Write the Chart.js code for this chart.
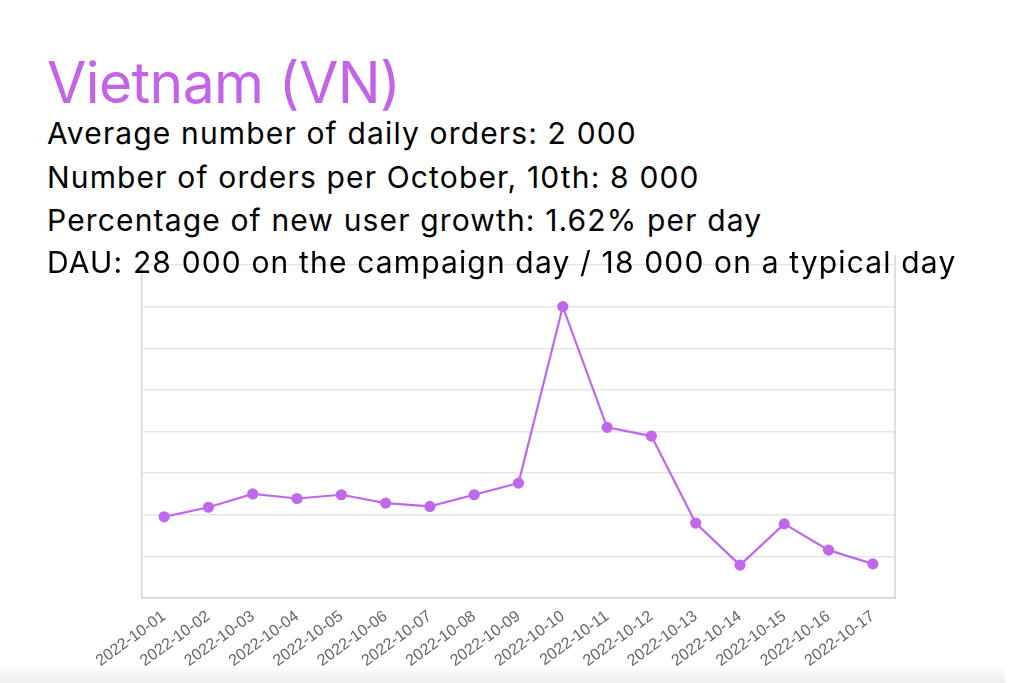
<!DOCTYPE html>
<html>
<head>
<meta charset="utf-8">
<script src="https://cdn.jsdelivr.net/npm/chart.js@4/dist/chart.umd.min.js"></script>
<style>
  html, body { margin: 0; padding: 0; width: 1024px; height: 683px; background: #fff; overflow: hidden; }
  .t { position: absolute; left: 47px; font-family: Inter, "Noto Sans", sans-serif; white-space: nowrap; }
  #title { top: 48px; font-size: 57px; line-height: 69px; color: #c263e8; letter-spacing: -0.6px; }
  .line { font-size: 30px; line-height: 43.33px; color: #000; letter-spacing: 1.15px; }
  #wrap { position: absolute; left: 0; top: 250px; width: 1024px; height: 433px; }
  #shade { position: absolute; left: 0; top: 664px; width: 1005px; height: 19px;
           background: linear-gradient(to bottom, rgba(240,240,240,0), rgba(238,238,238,1)); }
</style>
</head>
<body>
<div id="title" class="t">Vietnam (VN)</div>
<div class="t line" style="top:112px">Average number of daily orders: 2 000</div>
<div class="t line" style="top:155.5px">Number of orders per October, 10th: 8 000</div>
<div class="t line" style="top:198.8px">Percentage of new user growth: 1.62% per day</div>
<div id="shade"></div>
<div id="wrap"><canvas id="c" width="1024" height="433"></canvas></div>
<div class="t line" style="top:240.5px">DAU: 28 000 on the campaign day / 18 000 on a typical day</div>
<script>
const categories = ["2022-10-01","2022-10-02","2022-10-03","2022-10-04","2022-10-05","2022-10-06","2022-10-07","2022-10-08","2022-10-09","2022-10-10","2022-10-11","2022-10-12","2022-10-13","2022-10-14","2022-10-15","2022-10-16","2022-10-17"];
const orders = [2950, 3180, 3500, 3390, 3480, 3280, 3200, 3480, 3760, 8000, 5100, 4890, 2800, 1790, 2780, 2150, 1820];
const yMin = 1000, yMax = 9000, yStep = 1000;

const frame = {
  id: 'frame',
  afterDraw(chart) {
    const a = chart.chartArea, ctx = chart.ctx;
    ctx.save();
    ctx.strokeStyle = '#d4d4d4';
    ctx.lineWidth = 1.5;
    ctx.beginPath();
    ctx.moveTo(a.right, a.top - 10);
    ctx.lineTo(a.right, a.bottom);
    ctx.stroke();
    ctx.restore();
  }
};

new Chart(document.getElementById('c'), {
  type: 'line',
  data: {
    labels: categories,
    datasets: [{
      data: orders,
      borderColor: '#c068ec',
      backgroundColor: '#c068ec',
      borderWidth: 2.2,
      pointRadius: 4.5,
      pointHoverRadius: 4.5,
      tension: 0
    }]
  },
  options: {
    responsive: false,
    animation: false,
    events: [],
    layout: { padding: { left: 142, right: 129, top: 15, bottom: 0 } },
    plugins: { legend: { display: false }, tooltip: { enabled: false } },
    scales: {
      x: {
        offset: true,
        grid: { display: false, drawTicks: false },
        border: { display: true, color: '#d4d4d4', width: 1.5 },
        ticks: {
          minRotation: 36, maxRotation: 36, autoSkip: false,
          padding: 9,
          color: '#666666',
          font: { family: '"Liberation Sans", Arial, sans-serif', size: 16 }
        },
        afterFit(scale) { scale.height = 85; }
      },
      y: {
        min: yMin, max: yMax,
        ticks: { display: false, stepSize: yStep },
        grid: { color: '#e6e6e6', lineWidth: 1.5, drawTicks: false },
        border: { display: true, color: '#d4d4d4', width: 1.5 },
        afterFit(scale) { scale.width = 0; }
      }
    }
  },
  plugins: [frame]
});
</script>
</body>
</html>
